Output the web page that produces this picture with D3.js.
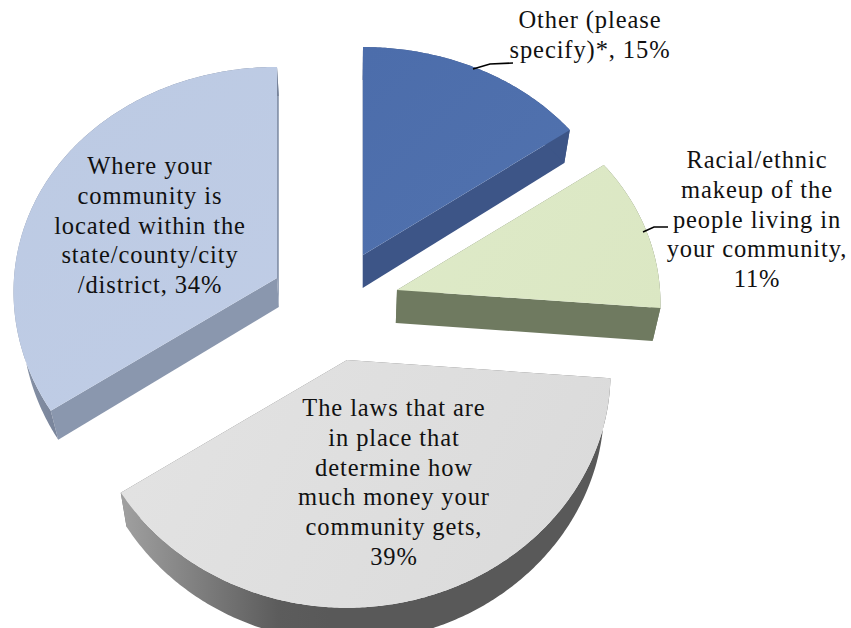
<!DOCTYPE html>
<html><head><meta charset="utf-8">
<script src="https://cdnjs.cloudflare.com/ajax/libs/d3/7.8.5/d3.min.js"></script>
<style>html,body{margin:0;padding:0;background:#fff;overflow:hidden}svg{display:block}</style>
</head><body><svg id="c" width="851" height="628"></svg>
<script>
const categories = ["Other (please specify)*","Racial/ethnic makeup of the people living in your community","The laws that are in place that determine how much money your community gets","Where your community is located within the state/county/city/district"];
const values = [15, 11, 39, 34];
const labelLines = [
  ["Other (please","specify)*, 15%"],
  ["Racial/ethnic","makeup of the","people living in","your community,","11%"],
  ["The laws that are","in place that","determine how","much money your","community gets,","39%"],
  ["Where your","community is","located within the","state/county/city","/district, 34%"]
];
// layout
const apexX = [363,397,347,277], apexY = [255,290,360,278];
const ryBoost = [1,1,1.015,1.015];
const sliceDepth = [33,33,34,29];
const labelX = [590,757,394,150], labelY = [28,168,416,174];
const leaderLines = [[[473,69],[490,64],[513,63]],[[643,232],[654,227],[668,227]],null,null];
const topFill = ["url(#t0)","url(#t1)","url(#t2)","url(#t3)"];
const edgeFill = ["#3d5587","#6f7a60","#6e6e6e","#8a97ae"];
const rimFill = ["#3d5587","#6f7a60","url(#rim2)","url(#rim3)"];
const Rx=263, Ry=226, kx=.06, ky=.08, vanishX=350, shrink=.975;

const svg=d3.select("#c");
const defs=svg.append("defs");
function grad(id,x1,y1,x2,y2,stops){
  const g=defs.append("linearGradient").attr("id",id).attr("gradientUnits","userSpaceOnUse")
    .attr("x1",x1).attr("y1",y1).attr("x2",x2).attr("y2",y2);
  stops.forEach(s=>g.append("stop").attr("offset",s[0]).attr("stop-color",s[1]));
}
grad("t0",363,50,570,260,[[0,"#4c6dab"],[1,"#5172ae"]]);
grad("t1",400,160,660,320,[[0,"#deeac8"],[1,"#dbe7c3"]]);
grad("t2",120,360,610,600,[[0,"#e3e3e3"],[1,"#dadada"]]);
grad("t3",10,70,280,440,[[0,"#bccae3"],[1,"#c0cde6"]]);
grad("rim2",122,0,330,0,[[0,"#a0a0a0"],[.75,"#5c5c5c"],[1,"#595959"]]);
grad("rim3",15,0,60,0,[[0,"#8a95a8"],[1,"#77839a"]]);

const pie=d3.pie().sort(null).value(d=>d);
const arcs=pie(values);
const line=d3.line();
function project(i,a){
  const c=Math.cos(a),s=Math.sin(a);
  return [apexX[i]+Rx*s*(1-kx*c), apexY[i]-Ry*ryBoost[i]*c*(1-ky*c)];
}
const apex=i=>[apexX[i],apexY[i]];
arcs.forEach((d,i)=>{
  const drop=p=>[vanishX+(p[0]-vanishX)*shrink,p[1]+sliceDepth[i]];
  const n=Math.ceil((d.endAngle-d.startAngle)/.01);
  const pts=d3.range(n+1).map(j=>project(i,d.startAngle+(d.endAngle-d.startAngle)*j/n));
  const g=svg.append("g");
  const a=apex(i), s=pts[0], e=pts[pts.length-1];
  g.append("path").attr("d",line([a,s,drop(s),drop(a)])+"Z").attr("fill",edgeFill[i]);
  g.append("path").attr("d",line([a,e,drop(e),drop(a)])+"Z").attr("fill",edgeFill[i]);
  g.append("path").attr("d",line(pts.concat(pts.map(drop).reverse()))+"Z").attr("fill",rimFill[i]);
  g.append("path").attr("d",line([a].concat(pts))+"Z").attr("fill",topFill[i]);
});
leaderLines.forEach(l=>{ if(l) svg.append("path").attr("d",line(l)).attr("fill","none").attr("stroke","#000").attr("stroke-width",1.6); });
labelLines.forEach((ls,i)=>{
  const t=svg.append("text").attr("text-anchor","middle")
    .attr("font-family","'Liberation Serif',serif").attr("font-size",24.5).attr("letter-spacing",.9).attr("fill","#111");
  ls.forEach((s,j)=>t.append("tspan").attr("x",labelX[i]).attr("y",labelY[i]+j*29.8).text(s));
});
</script></body></html>
